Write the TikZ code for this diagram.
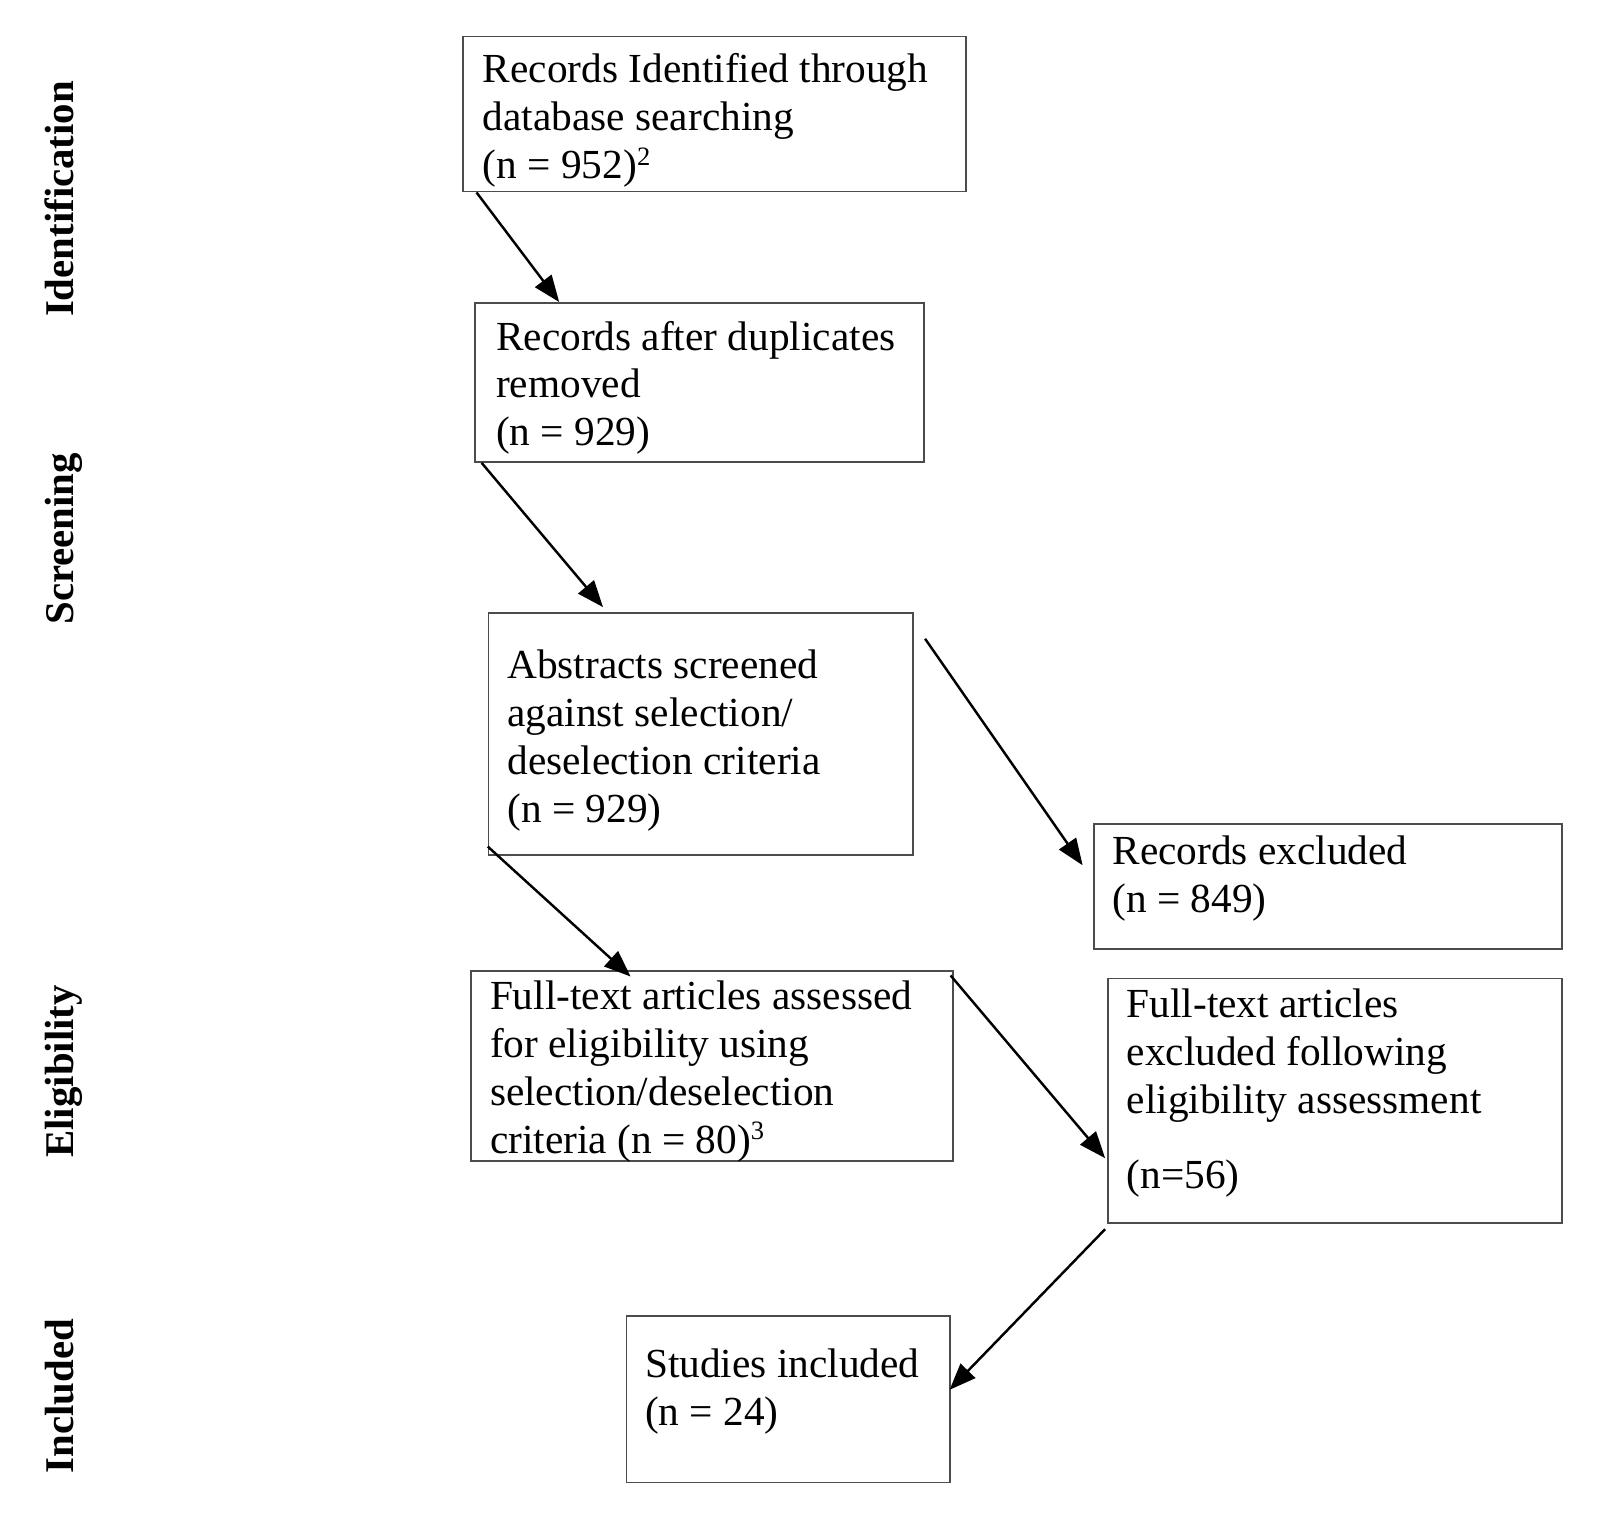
\documentclass[tikz,border=0pt]{standalone}
\usepackage{fontspec}
\setmainfont{Liberation Serif}
\usetikzlibrary{arrows.meta,calc}
\newcommand{\flowlines}[1]{\parbox[t]{440pt}{\raggedright #1}}
\newcommand{\smallsup}[1]{\raisebox{13pt}{\fontsize{26}{26}\selectfont #1}}
\begin{document}
\begin{tikzpicture}[x=1pt,y=-1pt,
  boxnode/.style={draw=black!70,line width=1.6pt,inner sep=0pt,anchor=north west},
  boxtext/.style={inner sep=0pt,anchor=base west,font=\fontsize{40.5}{47}\selectfont},
  phase/.style={rotate=90,anchor=base,inner sep=0pt,font=\fontsize{40}{46}\selectfont\bfseries},
  flow/.style={-{Triangle[length=26pt,width=20pt]},line width=2.4pt,black}]
\useasboundingbox[fill=white] (0,0) rectangle (1568,1482);

% boxes
\node[boxnode,minimum width=493pt,minimum height=152pt] (b1) at (453,35) {};
\node[boxnode,minimum width=440pt,minimum height=156pt] (b2) at (465,296) {};
\node[boxnode,minimum width=416pt,minimum height=237pt] (b3) at (478,600) {};
\node[boxnode,minimum width=459pt,minimum height=122pt] (b4) at (1071,807) {};
\node[boxnode,minimum width=472pt,minimum height=186pt] (b5) at (461,951) {};
\node[boxnode,minimum width=445pt,minimum height=240pt] (b6) at (1085,958) {};
\node[boxnode,minimum width=317pt,minimum height=163pt] (b7) at (613,1289) {};

% texts
\node[boxtext] (t1) at (473,81) {\flowlines{Records Identified through\\database searching\\(n = 952)\smallsup{2}}};
\node[boxtext] (t2) at (486,343) {\flowlines{Records after duplicates\\removed\\(n = 929)}};
\node[boxtext] (t3) at (497,665) {\flowlines{Abstracts screened\\against selection/\\deselection criteria\\(n = 929)}};
\node[boxtext] (t4) at (1090,847) {\flowlines{Records excluded\\(n = 849)}};
\node[boxtext] (t5) at (480,989) {\flowlines{Full-text articles assessed\\for eligibility using\\selection/deselection\\criteria (n = 80)\smallsup{3}}};
\node[boxtext] (t6) at (1104,997) {\flowlines{Full-text articles\\excluded following\\eligibility assessment\\[27pt](n=56)}};
\node[boxtext] (t7) at (632,1350) {\flowlines{Studies included\\(n = 24)}};

% phase labels
\node[phase] (p1) at (72,195) {Identification};
\node[phase] (p2) at (72,528) {Screening};
\node[phase] (p3) at (72,1050) {Eligibility};
\node[phase] (p4) at (72,1368) {Included};

% connectors
\draw[flow] ($(b1.south west)+(14,0)$) -- ($(b2.north west)+(83,0)$);
\draw[flow] ($(b2.south west)+(7,0)$) -- ($(b3.north west)+(113,-5)$);
\draw[flow] ($(b3.north east)+(11,26)$) -- ($(b4.north west)+(-10,41)$);
\draw[flow] ($(b3.south west)+(0,-9)$) -- ($(b5.north west)+(157,6)$);
\draw[flow] ($(b5.north east)+(-3,5)$) -- ($(b6.north west)+(-2,177)$);
\draw[flow] ($(b6.south west)+(-2,5)$) -- ($(b7.north east)+(-1,73)$);
\end{tikzpicture}
\end{document}
